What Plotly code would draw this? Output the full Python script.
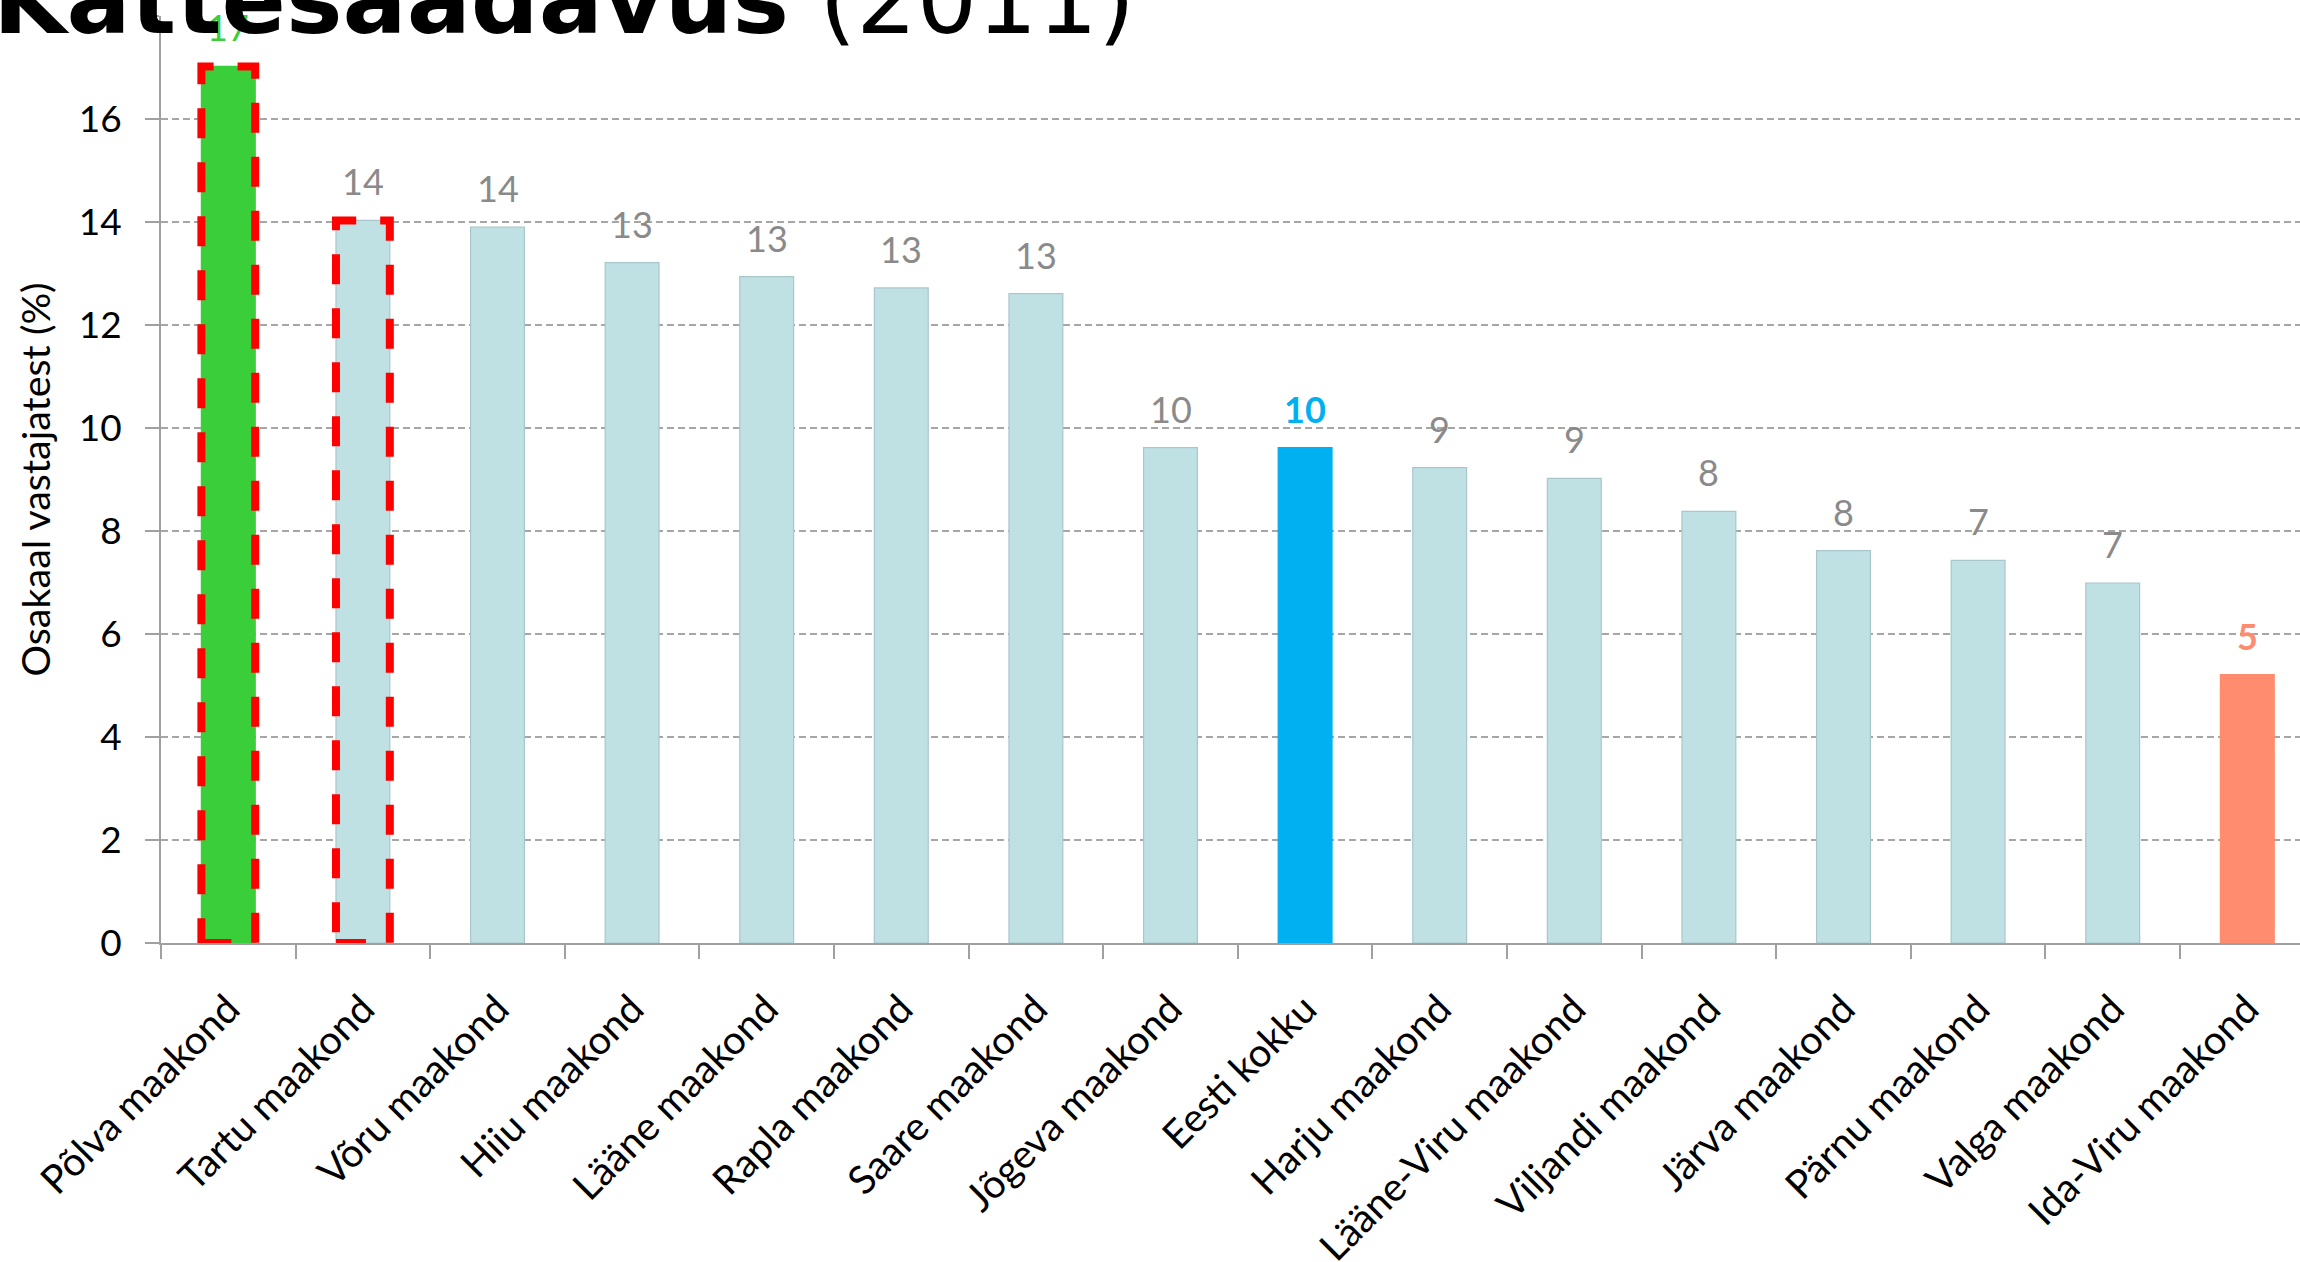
import plotly.graph_objects as go

# ---- data ----
categories = ["Põlva maakond", "Tartu maakond", "Võru maakond", "Hiiu maakond",
              "Lääne maakond", "Rapla maakond", "Saare maakond", "Jõgeva maakond",
              "Eesti kokku", "Harju maakond", "Lääne-Viru maakond", "Viljandi maakond",
              "Järva maakond", "Pärnu maakond", "Valga maakond", "Ida-Viru maakond"]
values = [17.02, 14.03, 13.9, 13.21, 12.94, 12.72, 12.61, 9.62,
          9.62, 9.23, 9.02, 8.38, 7.62, 7.43, 6.99, 5.21]
highlighted = ["Põlva maakond", "Tartu maakond"]
y_ticks = [0, 2, 4, 6, 8, 10, 12, 14, 16, 18]
title_main = "Kättesaadavus"
title_year = "(2011)"
y_title = "Osakaal vastajatest (%)"

# ---- styles ----
LIGHT = "#BFE1E4"
special_fill = {"Põlva maakond": "#3BCE3B", "Eesti kokku": "#00B0F0", "Ida-Viru maakond": "#FF8C6F"}
special_label = {"Põlva maakond": ("#3BCE3B", False), "Eesti kokku": ("#00B0F0", True),
                 "Ida-Viru maakond": ("#FF8C6F", True)}
fills = [special_fill.get(c, LIGHT) for c in categories]
outlines = [special_fill.get(c, "#A9C6CA") for c in categories]
BAR_W = 0.4
FONT = "Lato"

W, H = 2300, 1262
ML, MT, MB = 161, 16, 319
cat_px = 134.6
plot_w = W - ML
plot_h = H - MT - MB
n_visible = plot_w / cat_px

fig = go.Figure()
fig.add_trace(go.Bar(
    x=categories, y=values, width=BAR_W,
    marker=dict(color=fills, line=dict(color=outlines, width=1.2)),
    hoverinfo="x+y", showlegend=False,
))

annotations = []
for c, v in zip(categories, values):
    col, bold = special_label.get(c, ("#8A8A8A", False))
    txt = f"{round(v)}"
    if bold:
        txt = f"<b>{txt}</b>"
    annotations.append(dict(x=c, y=v, xref="x", yref="y", text=txt, showarrow=False,
                            yanchor="bottom", xanchor="center", yshift=15,
                            font=dict(family=FONT, size=36, color=col)))

shapes = []
for c in highlighted:
    i = categories.index(c)
    v = values[i]
    shapes.append(dict(type="rect", xref="x", yref="y",
                       x0=i - BAR_W / 2, x1=i + BAR_W / 2, y0=0, y1=v,
                       line=dict(color="#FF0000", width=8, dash="30px,24px"),
                       fillcolor="rgba(0,0,0,0)", layer="above"))

annotations.append(dict(
    xref="paper", yref="paper", x=(-9 - ML) / plot_w, y=(plot_h - 41) / plot_h,
    xanchor="left", yanchor="bottom", showarrow=False,
    text=f"<b>{title_main}</b> {title_year}",
    font=dict(family="DejaVu Sans", size=95, color="#000000")))

fig.update_layout(
    width=W, height=H,
    margin=dict(l=ML, r=0, t=MT, b=MB, pad=0, autoexpand=False),
    paper_bgcolor="white", plot_bgcolor="white",
    annotations=annotations, shapes=shapes,
    bargap=0.6,
)
fig.update_xaxes(
    type="category", range=[-0.5, -0.5 + n_visible], automargin=False,
    showline=True, linecolor="#A0A0A0", linewidth=2,
    ticks="outside", tickson="boundaries", ticklen=14, tickwidth=1.5, tickcolor="#A0A0A0",
    tickangle=-45, tickfont=dict(family=FONT, size=39.5, color="#000000"),
    showgrid=False, ticklabelstandoff=25,
)
fig.update_yaxes(
    range=[0, 18], tickvals=y_ticks, automargin=False,
    showline=True, linecolor="#A0A0A0", linewidth=2,
    ticks="outside", ticklen=14, tickwidth=1.5, tickcolor="#A0A0A0",
    tickfont=dict(family=FONT, size=37, color="#000000"),
    showgrid=True, gridcolor="#A6A6A6", gridwidth=1.5, griddash="7px,4px",
    zeroline=False, ticklabelstandoff=16,
    title=dict(text=y_title, font=dict(family=FONT, size=39.5, color="#000000"), standoff=16),
)

fig.write_html(
    "out.html",
    config={"displayModeBar": False},
    post_script="document.body.style.margin='0';document.body.style.overflow='hidden';",
)
